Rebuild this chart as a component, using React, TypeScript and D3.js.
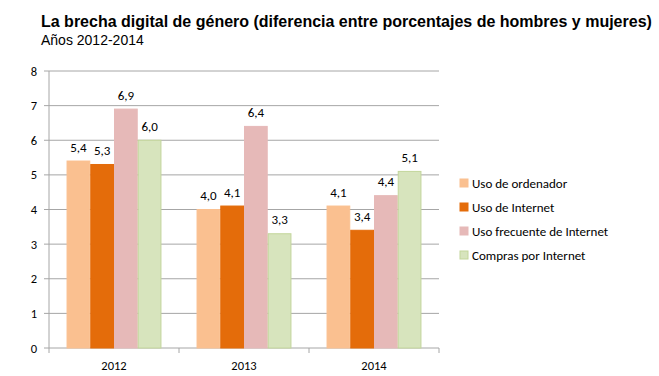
import React from "react";
import * as d3 from "d3";

const years = ["2012", "2013", "2014"];
const seriesNames = ["Uso de ordenador", "Uso de Internet", "Uso frecuente de Internet", "Compras por Internet"];
const usoOrdenador = [5.4, 4.0, 4.1];
const usoInternet = [5.3, 4.1, 3.4];
const usoFrecuente = [6.9, 6.4, 4.4];
const compras = [6.0, 3.3, 5.1];
const yTicks = [0, 1, 2, 3, 4, 5, 6, 7, 8];

const colors = ["#FAC090", "#E46C0A", "#E6B9B8", "#D7E4BD"];
const strokes = ["#FAC090", "#E46C0A", "#E6B9B8", "#C3D69B"];

export default function App() {
  const W = 659, H = 376;
  const left = 49, right = 439, top = 71, bottom = 348;
  const values = [usoOrdenador, usoInternet, usoFrecuente, compras];
  const x0 = d3.scaleBand().domain(years).range([left, right]).paddingInner(0.27).paddingOuter(0.135);
  const x1 = d3.scaleBand().domain(seriesNames).range([0, x0.bandwidth()]);
  const y = d3.scaleLinear().domain([0, 8]).range([bottom, top]);
  const cat = d3.scaleBand().domain(years).range([left, right]);
  const fmt = (v: number) => v.toFixed(1).replace(".", ",");
  const font = "Carlito, 'Open Sans', 'Liberation Sans', sans-serif";
  return (
    <svg width={W} height={H} style={{ position: "absolute", left: 0, top: 0, background: "#fff" }}>
      <text x={41} y={27} fontFamily="'Liberation Sans', Arial, sans-serif" fontWeight="bold" fontSize={16} fill="#000">
        La brecha digital de género (diferencia entre porcentajes de hombres y mujeres)
      </text>
      <text x={41} y={45} fontFamily="'Liberation Sans', Arial, sans-serif" fontSize={14} fill="#000">
        Años 2012-2014
      </text>
      {yTicks.map((t) => (
        <g key={t}>
          <line x1={left - 5} x2={right} y1={y(t)} y2={y(t)} stroke="#A6A6A6" strokeWidth={1} />
          <text x={37} y={y(t) + 4.5} textAnchor="end" fontFamily={font} fontSize={12.5} fill="#000">{t}</text>
        </g>
      ))}
      <line x1={left} x2={left} y1={top} y2={bottom} stroke="#A6A6A6" />
      {years.concat(["end"]).map((yr, i) => {
        const xx = left + i * cat.bandwidth();
        return <line key={yr} x1={xx} x2={xx} y1={bottom} y2={bottom + 5} stroke="#A6A6A6" />;
      })}
      {years.map((yr, i) => (
        <g key={yr}>
          {seriesNames.map((s, j) => {
            const v = values[j][i];
            const bx = (x0(yr) as number) + (x1(s) as number);
            return (
              <g key={s}>
                <rect x={bx + 0.5} y={y(v)} width={x1.bandwidth() - 1} height={bottom - y(v)} fill={colors[j]} stroke={strokes[j]} strokeWidth={1} />
                <text x={bx + x1.bandwidth() / 2} y={y(v) - 9.5} textAnchor="middle" fontFamily={font} fontSize={13} fill="#000">{fmt(v)}</text>
              </g>
            );
          })}
          <text x={(cat(yr) as number) + cat.bandwidth() / 2} y={bottom + 22} textAnchor="middle" fontFamily={font} fontSize={12.5} fill="#000">{yr}</text>
        </g>
      ))}
      {seriesNames.map((s, j) => (
        <g key={s} transform={`translate(460, ${183 + j * 24})`}>
          <rect x={0} y={-4} width={8} height={8} fill={colors[j]} stroke={strokes[j]} />
          <text x={12} y={4.5} fontFamily={font} fontSize={13} fill="#000">{s}</text>
        </g>
      ))}
    </svg>
  );
}
